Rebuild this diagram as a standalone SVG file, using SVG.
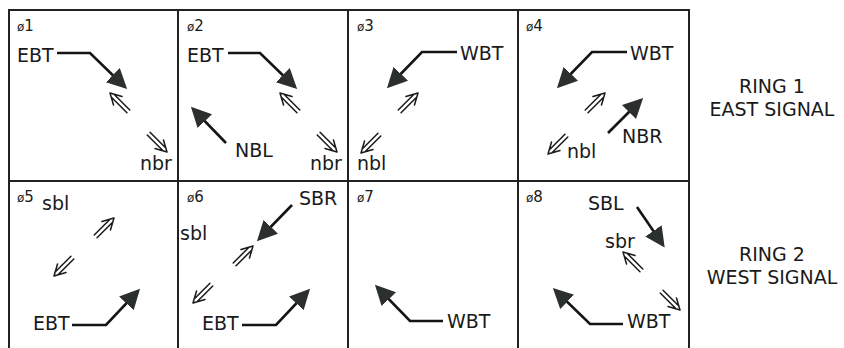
<svg xmlns="http://www.w3.org/2000/svg" xmlns:xlink="http://www.w3.org/1999/xlink" width="844" height="348" viewBox="0 0 844 348">
<style>
text{font-family:"DejaVu Sans","Liberation Sans",sans-serif;fill:#1a1a1a}
.lbl{font-size:19px}
.ph{font-size:15px}
.phs{font-size:12px}
.ring{font-size:19px;text-anchor:middle}
.grid{stroke:#222;stroke-width:2;fill:none}
.big{stroke:#151515;stroke-width:2.6;fill:none;marker-end:url(#ah)}
.sm{stroke:#1a1a1a;stroke-width:1.5;fill:none;stroke-linecap:round}
</style>
<defs>
<marker id="ah" markerUnits="userSpaceOnUse" markerWidth="24" markerHeight="22" refX="17" refY="10" orient="auto">
<path d="M0,0 L20,10 L0,20 z" fill="#2b302f"/>
</marker>
<g id="dbl" class="sm">
<path d="M0,0 L-11,-6 M0,0 L-11,6 M-4,-2 L-26,-2 M-4,2 L-26,2"/>
</g>
</defs>
<rect width="844" height="348" fill="#fff"/>
<g id="grid" class="grid">
<path d="M9,348 V10 H689 V348 M178,10 V348 M348,10 V348 M518,10 V348 M9,181 H689"/>
</g>
<g id="connectors">
<polyline class="big" points="57,53 90,53 125,87"/>
<polyline class="big" points="228,53 260,53 295,87"/>
<polyline class="big" points="226,143 193,109"/>
<polyline class="big" points="457,52 422,52 389,86"/>
<polyline class="big" points="627,52 592,52 559,86"/>
<polyline class="big" points="608,133 641,100"/>
<polyline class="big" points="72,325 106,325 138,291"/>
<polyline class="big" points="292,205 259,239"/>
<polyline class="big" points="242,325 276,325 308,291"/>
<polyline class="big" points="443,321 410,321 377,287"/>
<polyline class="big" points="637,207 663,245"/>
<polyline class="big" points="623,324 590,324 555,290"/>
<use xlink:href="#dbl" transform="translate(110,93) rotate(-135)"/>
<use xlink:href="#dbl" transform="translate(167,152) rotate(45)"/>
<use xlink:href="#dbl" transform="translate(280,93) rotate(-135)"/>
<use xlink:href="#dbl" transform="translate(337,152) rotate(45)"/>
<use xlink:href="#dbl" transform="translate(418,93) rotate(-45)"/>
<use xlink:href="#dbl" transform="translate(361,153) rotate(135)"/>
<use xlink:href="#dbl" transform="translate(605,93) rotate(-45)"/>
<use xlink:href="#dbl" transform="translate(548,154) rotate(135)"/>
<use xlink:href="#dbl" transform="translate(114,218) rotate(-45)"/>
<use xlink:href="#dbl" transform="translate(54,276) rotate(135)"/>
<use xlink:href="#dbl" transform="translate(253,246) rotate(-45)"/>
<use xlink:href="#dbl" transform="translate(193,303) rotate(135)"/>
<use xlink:href="#dbl" transform="translate(623,252) rotate(-135)"/>
<use xlink:href="#dbl" transform="translate(680,310) rotate(45)"/>
</g>
<g id="phase1">
<text class="ph" x="17" y="31"><tspan class="phs">ø</tspan>1</text>
<text class="lbl" x="17" y="62">EBT</text>
<text class="lbl" x="140" y="170">nbr</text>
</g>
<g id="phase2">
<text class="ph" x="187" y="31"><tspan class="phs">ø</tspan>2</text>
<text class="lbl" x="187" y="62">EBT</text>
<text class="lbl" x="235" y="157">NBL</text>
<text class="lbl" x="310" y="170">nbr</text>
</g>
<g id="phase3">
<text class="ph" x="357" y="31"><tspan class="phs">ø</tspan>3</text>
<text class="lbl" x="460" y="60">WBT</text>
<text class="lbl" x="357" y="170">nbl</text>
</g>
<g id="phase4">
<text class="ph" x="526" y="31"><tspan class="phs">ø</tspan>4</text>
<text class="lbl" x="630" y="60">WBT</text>
<text class="lbl" x="622" y="143">NBR</text>
<text class="lbl" x="567" y="158">nbl</text>
</g>
<g id="phase5">
<text class="ph" x="17" y="202"><tspan class="phs">ø</tspan>5</text>
<text class="lbl" x="42" y="210">sbl</text>
<text class="lbl" x="33" y="330">EBT</text>
</g>
<g id="phase6">
<text class="ph" x="187" y="202"><tspan class="phs">ø</tspan>6</text>
<text class="lbl" x="299" y="205">SBR</text>
<text class="lbl" x="180" y="240">sbl</text>
<text class="lbl" x="202" y="330">EBT</text>
</g>
<g id="phase7">
<text class="ph" x="357" y="202"><tspan class="phs">ø</tspan>7</text>
<text class="lbl" x="447" y="328">WBT</text>
</g>
<g id="phase8">
<text class="ph" x="526" y="202"><tspan class="phs">ø</tspan>8</text>
<text class="lbl" x="588" y="210">SBL</text>
<text class="lbl" x="605" y="248">sbr</text>
<text class="lbl" x="627" y="328">WBT</text>
</g>
<g id="ring1">
<text class="ring" x="772" y="93">RING 1</text>
<text class="ring" x="772" y="116">EAST SIGNAL</text>
</g>
<g id="ring2">
<text class="ring" x="772" y="261">RING 2</text>
<text class="ring" x="772" y="284">WEST SIGNAL</text>
</g>
</svg>
